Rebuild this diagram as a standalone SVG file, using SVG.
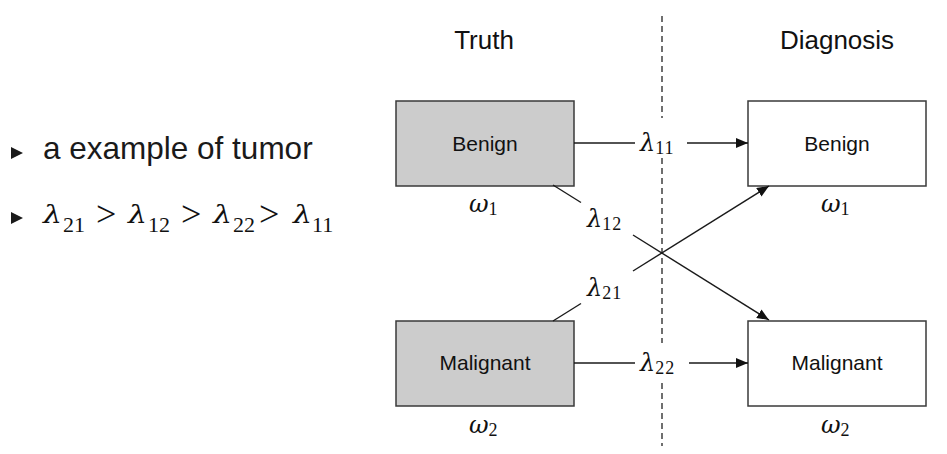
<svg xmlns="http://www.w3.org/2000/svg" width="947" height="454" viewBox="0 0 947 454">
<style>
.box{stroke:#3a3a3a;stroke-width:1.5}
.truth{fill:#cccccc}
.diag{fill:#ffffff}
.lbl{font-family:"Liberation Sans",Arial,sans-serif;font-size:21px;fill:#111;text-anchor:middle}
.title{font-family:"Liberation Sans",Arial,sans-serif;font-size:26px;fill:#111;text-anchor:middle}
.edge{stroke:#1a1a1a;stroke-width:1.4;fill:none}
.dash{stroke:#333;stroke-width:1.4;stroke-dasharray:6 4}
.m{font-family:"Liberation Serif","Times New Roman",serif;fill:#111}
.g{font-family:"DejaVu Serif",serif;font-style:italic}
.gt{font-size:36px}
.bul{font-family:"Liberation Sans",Arial,sans-serif;font-size:31.5px;fill:#1a1a1a}
</style>
<defs>
<marker id="ah" markerWidth="12" markerHeight="10" refX="12" refY="5" orient="auto" markerUnits="userSpaceOnUse">
<path d="M0,0 L12,5 L0,10 Z" fill="#111"/>
</marker>
</defs>

<g id="bullets">
<polygon points="11,147 23,153 11,159" fill="#1a1a1a"/>
<text class="bul" x="43" y="159">a example of tumor</text>
<polygon points="11,212 23,218 11,224" fill="#1a1a1a"/>
<g class="m">
<text x="43" y="223" font-size="24" class="g" textLength="19" lengthAdjust="spacingAndGlyphs">λ</text>
<text x="63" y="232" font-size="22">21</text>
<text x="96" y="226" class="gt">&gt;</text>
<text x="128" y="223" font-size="24" class="g" textLength="19" lengthAdjust="spacingAndGlyphs">λ</text>
<text x="148" y="232" font-size="22">12</text>
<text x="181" y="226" class="gt">&gt;</text>
<text x="213" y="223" font-size="24" class="g" textLength="19" lengthAdjust="spacingAndGlyphs">λ</text>
<text x="233" y="232" font-size="22">22</text>
<text x="259" y="226" class="gt">&gt;</text>
<text x="293" y="223" font-size="24" class="g" textLength="19" lengthAdjust="spacingAndGlyphs">λ</text>
<text x="312" y="232" font-size="22">11</text>
</g>
</g>

<g id="titles">
<text class="title" x="484" y="49">Truth</text>
<text class="title" x="837" y="49">Diagnosis</text>
</g>

<g id="divider">
<line class="dash" x1="662" y1="16" x2="662" y2="118"/>
<line class="dash" x1="662" y1="158" x2="662" y2="343"/>
<line class="dash" x1="662" y1="383" x2="662" y2="446"/>
</g>

<g id="truth-benign">
<rect class="box truth" x="396" y="101" width="178" height="85"/>
<text class="lbl" x="485" y="151">Benign</text>
<text class="m" x="469" y="212"><tspan class="g" font-size="24">ω</tspan><tspan font-size="18" dy="3">1</tspan></text>
</g>
<g id="truth-malignant">
<rect class="box truth" x="396" y="321" width="178" height="85"/>
<text class="lbl" x="485" y="370">Malignant</text>
<text class="m" x="469" y="433"><tspan class="g" font-size="24">ω</tspan><tspan font-size="18" dy="3">2</tspan></text>
</g>
<g id="diag-benign">
<rect class="box diag" x="748" y="101" width="178" height="85"/>
<text class="lbl" x="837" y="151">Benign</text>
<text class="m" x="821" y="212"><tspan class="g" font-size="24">ω</tspan><tspan font-size="18" dy="3">1</tspan></text>
</g>
<g id="diag-malignant">
<rect class="box diag" x="748" y="321" width="178" height="85"/>
<text class="lbl" x="837" y="370">Malignant</text>
<text class="m" x="821" y="433"><tspan class="g" font-size="24">ω</tspan><tspan font-size="18" dy="3">2</tspan></text>
</g>

<g id="connectors">
<line class="edge" x1="574" y1="143" x2="635" y2="143"/>
<line class="edge" x1="687" y1="143" x2="748" y2="143" marker-end="url(#ah)"/>
<text class="m" x="640" y="151"><tspan class="g" font-size="24">λ</tspan><tspan font-size="18" dy="3" letter-spacing="1">11</tspan></text>

<line class="edge" x1="574" y1="363" x2="635" y2="363"/>
<line class="edge" x1="689" y1="363" x2="748" y2="363" marker-end="url(#ah)"/>
<text class="m" x="640" y="371"><tspan class="g" font-size="24">λ</tspan><tspan font-size="18" dy="3" letter-spacing="1">22</tspan></text>

<line class="edge" x1="553" y1="185" x2="581" y2="202.5"/>
<line class="edge" x1="633" y1="235" x2="769" y2="320" marker-end="url(#ah)"/>
<text class="m" x="587" y="227"><tspan class="g" font-size="24">λ</tspan><tspan font-size="18" dy="3" letter-spacing="1">12</tspan></text>

<line class="edge" x1="553" y1="321" x2="581" y2="303.5"/>
<line class="edge" x1="633" y1="271" x2="769" y2="186" marker-end="url(#ah)"/>
<text class="m" x="587" y="296"><tspan class="g" font-size="24">λ</tspan><tspan font-size="18" dy="3" letter-spacing="1">21</tspan></text>
</g>
</svg>
